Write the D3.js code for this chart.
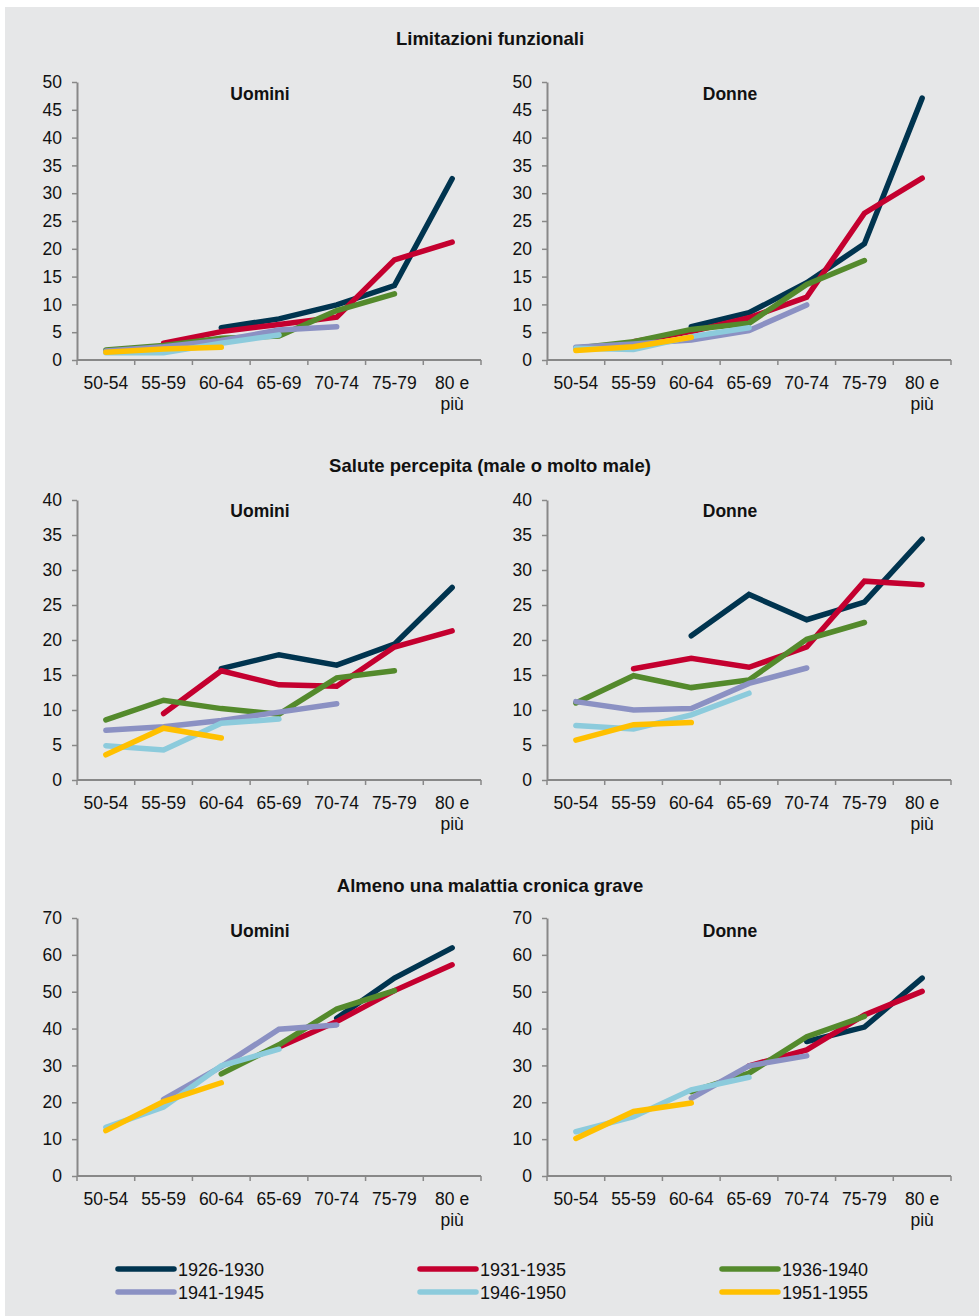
<!DOCTYPE html>
<html><head><meta charset="utf-8">
<script src="https://cdn.jsdelivr.net/npm/d3@7"></script>
<style>
html,body{margin:0;padding:0;background:#fff;}
svg{display:block;font-family:"Liberation Sans",Arial,sans-serif;}
</style></head>
<body><svg id="c" width="979" height="1316"></svg>
<script>
const categories = ["50-54","55-59","60-64","65-69","70-74","75-79","80 e più"];
const cohorts = ["1926-1930","1931-1935","1936-1940","1941-1945","1946-1950","1951-1955"];
const colors = ["#00344f","#c4002f","#548a2c","#8b91c3","#8ccbdc","#ffc000"];
const sectionTitles = ["Limitazioni funzionali","Salute percepita (male o molto male)","Almeno una malattia cronica grave"];
const sexTitles = ["Uomini","Donne"];
const yTicksLim = [0,5,10,15,20,25,30,35,40,45,50];
const yTicksSal = [0,5,10,15,20,25,30,35,40];
const yTicksCro = [0,10,20,30,40,50,60,70];

// series values per cohort (null = not observed)
const limUomini = [
  [null,null,5.8,7.4,9.9,13.4,32.6],
  [null,3.0,5.1,6.4,7.7,18.0,21.2],
  [1.8,2.6,3.9,4.3,8.9,11.9,null],
  [1.6,2.4,3.5,5.4,6.0,null,null],
  [1.3,1.3,3.0,4.5,null,null,null],
  [1.4,2.0,2.3,null,null,null,null]
];
const limDonne = [
  [null,null,6.0,8.5,13.9,20.9,47.1],
  [null,3.3,5.1,7.6,11.3,26.4,32.7],
  [2.1,3.3,5.5,6.6,13.6,17.9,null],
  [2.3,2.9,3.6,5.3,9.9,null,null],
  [2.1,1.9,4.2,5.8,null,null,null],
  [1.7,2.4,4.1,null,null,null,null]
];
const salUomini = [
  [null,null,15.9,17.9,16.4,19.4,27.5],
  [null,9.5,15.6,13.6,13.4,19.0,21.3],
  [8.6,11.4,10.2,9.4,14.6,15.6,null],
  [7.1,7.6,8.5,9.7,10.9,null,null],
  [4.9,4.3,8.1,8.7,null,null,null],
  [3.6,7.4,6.0,null,null,null,null]
];
const salDonne = [
  [null,null,20.6,26.5,22.9,25.4,34.4],
  [null,15.9,17.4,16.1,19.0,28.4,27.9],
  [11.0,14.9,13.2,14.3,20.1,22.5,null],
  [11.2,10.0,10.2,13.8,16.0,null,null],
  [7.8,7.3,9.3,12.4,null,null,null],
  [5.7,7.9,8.2,null,null,null,null]
];
const croUomini = [
  [null,null,null,null,42.8,53.7,61.9],
  [null,null,null,35.0,41.9,50.3,57.3],
  [null,null,27.7,35.6,45.3,50.3,null],
  [null,20.8,29.7,39.8,41.0,null,null],
  [13.2,18.7,29.9,34.4,null,null,null],
  [12.3,20.2,25.3,null,null,null,null]
];
const croDonne = [
  [null,null,null,null,36.5,40.4,53.7],
  [null,null,null,29.9,34.2,43.7,50.1],
  [null,null,22.9,27.9,37.8,43.3,null],
  [null,null,21.1,29.9,32.6,null,null],
  [12.0,16.1,23.4,26.8,null,null,null],
  [10.2,17.5,19.8,null,null,null,null]
];

const svg = d3.select("#c");
svg.append("rect").attr("x",5).attr("y",7).attr("width",974).attr("height",1309).attr("fill","#e6e7e8");

const axisColor = "#888888";
const textColor = "#111";
const ff = "'Liberation Sans',Arial,sans-serif";

const rows = [
  {title:sectionTitles[0], ty:45, top:82, bot:360, max:50, ticks:yTicksLim, subY:100, data:[limUomini,limDonne]},
  {title:sectionTitles[1], ty:472, top:500, bot:780, max:40, ticks:yTicksSal, subY:517, data:[salUomini,salDonne]},
  {title:sectionTitles[2], ty:892, top:918, bot:1176, max:70, ticks:yTicksCro, subY:937, data:[croUomini,croDonne]}
];
const cols = [{x0:77,x1:481},{x0:547,x1:951}];

rows.forEach(r=>{
  svg.append("text").attr("x",490).attr("y",r.ty).attr("text-anchor","middle").attr("font-family",ff)
    .attr("font-size",18.5).attr("font-weight","bold").attr("fill",textColor).text(r.title);
  cols.forEach((c,ci)=>{
    const x = d3.scaleBand().domain(categories).range([c.x0,c.x1]).padding(0);
    const y = d3.scaleLinear().domain([0,r.max]).range([r.bot,r.top]);
    const g = svg.append("g");
    // y axis
    const ya = g.append("g").attr("transform",`translate(${c.x0},0)`)
      .call(d3.axisLeft(y).tickValues(r.ticks).tickSize(5).tickPadding(10).tickSizeOuter(0));
    ya.select(".domain").attr("stroke",axisColor).attr("stroke-width",2);
    ya.selectAll(".tick line").attr("stroke",axisColor).attr("stroke-width",1.5);
    ya.selectAll(".tick text").attr("font-size",17.5).attr("fill",textColor).attr("font-family",ff);
    // x axis
    g.append("line").attr("x1",c.x0).attr("x2",c.x1).attr("y1",r.bot).attr("y2",r.bot)
      .attr("stroke",axisColor).attr("stroke-width",2);
    const bounds = categories.map(k=>x(k)).concat([c.x1]);
    g.selectAll(".xt").data(bounds).join("line").attr("x1",d=>d).attr("x2",d=>d)
      .attr("y1",r.bot).attr("y2",r.bot+5).attr("stroke",axisColor).attr("stroke-width",1.5);
    categories.forEach(k=>{
      const cx = x(k)+x.bandwidth()/2;
      const t = g.append("text").attr("x",cx).attr("y",r.bot+29).attr("text-anchor","middle")
        .attr("font-size",17.5).attr("fill",textColor).attr("font-family",ff);
      if(k==="80 e più"){
        t.append("tspan").attr("x",cx).text("80 e");
        t.append("tspan").attr("x",cx).attr("dy",21).text("più");
      } else t.text(k);
    });
    // subtitle
    g.append("text").attr("x",(c.x0+c.x1)/2-19).attr("y",r.subY).attr("text-anchor","middle").attr("font-family",ff)
      .attr("font-size",17.5).attr("font-weight","bold").attr("fill",textColor).text(sexTitles[ci]);
    // lines
    const line = d3.line().defined(d=>d.v!==null).x(d=>x(d.k)+x.bandwidth()/2).y(d=>y(d.v));
    const series = r.data[ci];
    series.forEach((vals,si)=>{
      const pts = vals.map((v,i)=>({k:categories[i],v:v}));
      g.append("path").attr("d",line(pts)).attr("fill","none").attr("stroke",colors[si])
        .attr("stroke-width",5.5).attr("stroke-linecap","round").attr("stroke-linejoin","miter");
    });
  });
});

// legend
const legX = [118,420,722];
const legY = [1269,1292];
cohorts.forEach((c,i)=>{
  const lx = legX[i%3], ly = legY[Math.floor(i/3)];
  svg.append("line").attr("x1",lx).attr("x2",lx+56).attr("y1",ly).attr("y2",ly)
    .attr("stroke",colors[i]).attr("stroke-width",5.5).attr("stroke-linecap","round");
  svg.append("text").attr("x",lx+60).attr("y",ly+6.5).attr("font-size",18).attr("font-family",ff)
    .attr("fill",textColor).text(c);
});
</script></body></html>
